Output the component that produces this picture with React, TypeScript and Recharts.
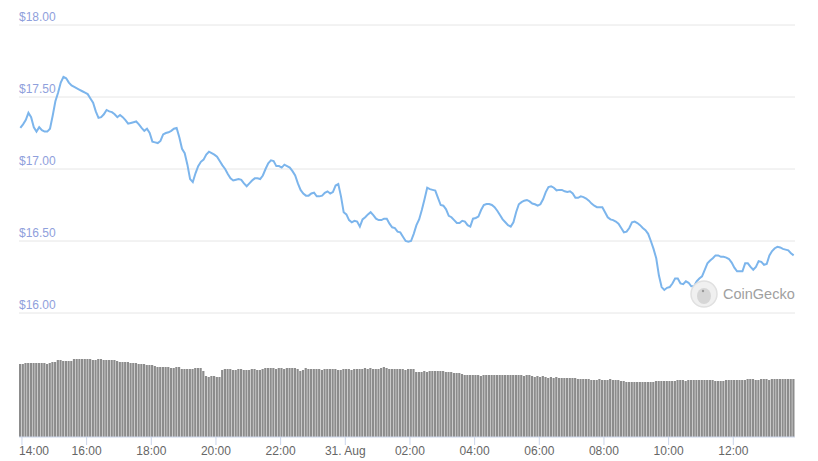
import { ComposedChart, Line, Bar, XAxis, YAxis, ReferenceLine } from 'recharts'

// 5-minute points, minutes since 30 Aug 00:00
const START = 837 // 13:57
const STEP = 5

// price in USD, one value per 5 minutes
const prices = [
  17.285, 17.31, 17.34, 17.39, 17.36, 17.29, 17.26, 17.29, 17.27, 17.26, 17.26, 17.28,
  17.37, 17.47, 17.53, 17.6, 17.64, 17.63, 17.6, 17.58, 17.57, 17.56, 17.55, 17.54,
  17.53, 17.52, 17.49, 17.46, 17.4, 17.355, 17.36, 17.38, 17.41, 17.4, 17.395, 17.38,
  17.36, 17.375, 17.36, 17.34, 17.315, 17.32, 17.325, 17.33, 17.31, 17.285, 17.265, 17.28,
  17.25, 17.19, 17.185, 17.18, 17.195, 17.24, 17.25, 17.255, 17.265, 17.28, 17.285, 17.22,
  17.14, 17.11, 17.03, 16.93, 16.91, 16.97, 17.02, 17.05, 17.065, 17.1, 17.12, 17.11,
  17.1, 17.085, 17.055, 17.025, 17.0, 16.965, 16.935, 16.92, 16.925, 16.93, 16.925, 16.9,
  16.88, 16.9, 16.92, 16.935, 16.935, 16.93, 16.955, 17.0, 17.04, 17.06, 17.055, 17.02,
  17.02, 17.01, 17.03, 17.02, 17.01, 16.985, 16.955, 16.9, 16.855, 16.83, 16.815, 16.815,
  16.83, 16.835, 16.81, 16.81, 16.815, 16.835, 16.845, 16.83, 16.84, 16.885, 16.895, 16.81,
  16.7, 16.685, 16.645, 16.63, 16.64, 16.635, 16.6, 16.65, 16.665, 16.685, 16.7, 16.68,
  16.655, 16.645, 16.645, 16.655, 16.655, 16.62, 16.595, 16.59, 16.565, 16.56, 16.53, 16.5,
  16.495, 16.5, 16.55, 16.61, 16.65, 16.715, 16.79, 16.87, 16.86, 16.855, 16.85, 16.8,
  16.75, 16.745, 16.72, 16.675, 16.665, 16.645, 16.625, 16.625, 16.64, 16.635, 16.61, 16.6,
  16.655, 16.66, 16.67, 16.715, 16.75, 16.757, 16.757, 16.75, 16.735, 16.71, 16.68, 16.65,
  16.63, 16.61, 16.6, 16.63, 16.7, 16.755, 16.77, 16.78, 16.785, 16.775, 16.76, 16.755,
  16.745, 16.755, 16.79, 16.84, 16.875, 16.88, 16.87, 16.852, 16.855, 16.855, 16.845, 16.84,
  16.845, 16.83, 16.8, 16.8, 16.81, 16.805, 16.795, 16.78, 16.76, 16.745, 16.735, 16.735,
  16.735, 16.7, 16.665, 16.65, 16.645, 16.635, 16.62, 16.59, 16.56, 16.565, 16.59, 16.63,
  16.635, 16.625, 16.61, 16.59, 16.575, 16.55, 16.5, 16.445, 16.38, 16.26, 16.18, 16.16,
  16.175, 16.18, 16.205, 16.24, 16.24, 16.205, 16.2, 16.22, 16.21, 16.185, 16.185, 16.22,
  16.24, 16.255, 16.3, 16.345, 16.365, 16.38, 16.4, 16.4, 16.39, 16.39, 16.385, 16.375,
  16.35, 16.315, 16.29, 16.29, 16.29, 16.345, 16.345, 16.32, 16.3, 16.32, 16.36, 16.355,
  16.335, 16.34, 16.4, 16.43, 16.45, 16.46, 16.455, 16.445, 16.44, 16.435, 16.415, 16.4,
]

// total volume, millions USD, same 5-minute steps
const volumes = [
  73, 73, 74, 74, 74, 74, 74, 74, 74, 74, 73, 74,
  75, 75, 77, 77, 76, 76, 76, 76, 78, 78, 78, 78,
  78, 78, 78, 77, 77, 78, 78, 77, 77, 77, 77, 77,
  76, 75, 75, 75, 75, 74, 74, 74, 73, 73, 73, 72,
  72, 72, 71, 70, 70, 70, 70, 70, 69, 69, 70, 70,
  68, 68, 68, 68, 68, 69, 69, 69, 66, 61, 60, 61,
  61, 60, 60, 67, 68, 68, 68, 67, 67, 68, 68, 67,
  67, 67, 68, 68, 67, 67, 68, 69, 69, 69, 69, 68,
  69, 69, 68, 69, 69, 69, 69, 68, 66, 67, 69, 68,
  68, 68, 68, 68, 67, 68, 68, 68, 68, 68, 67, 67,
  68, 68, 68, 67, 68, 68, 68, 68, 69, 68, 69, 68,
  68, 68, 69, 70, 69, 68, 68, 68, 68, 68, 68, 67,
  68, 68, 68, 65, 65, 65, 66, 65, 66, 66, 66, 66,
  66, 66, 65, 65, 65, 64, 64, 64, 63, 62, 62, 62,
  62, 62, 62, 61, 62, 62, 62, 62, 62, 62, 62, 62,
  62, 62, 62, 62, 62, 62, 62, 61, 62, 62, 61, 60,
  61, 60, 61, 60, 59, 60, 59, 60, 59, 59, 59, 59,
  59, 59, 59, 58, 58, 58, 58, 58, 57, 57, 57, 58,
  57, 57, 57, 58, 57, 57, 57, 56, 56, 55, 55, 55,
  55, 55, 55, 55, 55, 55, 55, 55, 56, 56, 56, 56,
  56, 56, 56, 56, 57, 57, 57, 56, 57, 57, 57, 57,
  57, 57, 57, 57, 57, 57, 56, 56, 56, 56, 57, 57,
  57, 57, 57, 57, 57, 57, 58, 58, 58, 57, 57, 58,
  58, 58, 57, 58, 58, 58, 58, 58, 58, 58, 58, 58,
]

const priceTicks = [16, 16.5, 17, 17.5, 18]
const timeTicks = [840, 960, 1080, 1200, 1320, 1440, 1560, 1680, 1800, 1920, 2040, 2160]

const data = prices.map((price, i) => ({
  t: START + i * STEP,
  price,
  volume: volumes[i],
}))

const W = 818
const H = 461
const margin = { top: 10, right: 23, bottom: 0, left: 19 }
const FONT = "'Liberation Sans', Arial, sans-serif"

const formatTime = (t: number) => {
  const h = Math.floor(t / 60) % 24
  if (h === 0) return '31. Aug'
  return String(h).padStart(2, '0') + ':00'
}

const PriceTick = (props: any) => {
  const { y, payload } = props
  return (
    <text x={margin.left} y={y - 4} fill="#8fa0dc" fontSize={12} fontFamily={FONT} textAnchor="start">
      ${payload.value.toFixed(2)}
    </text>
  )
}

const TimeTick = (props: any) => {
  const { x, y, payload } = props
  const label = formatTime(payload.value)
  // first label is pushed inside the plot, like the original
  const atEdge = x - 15 < margin.left
  return (
    <text
      x={atEdge ? margin.left : x}
      y={y + 10}
      fill="#666666"
      fontSize={12}
      fontFamily={FONT}
      textAnchor={atEdge ? 'start' : 'middle'}
    >
      {label}
    </text>
  )
}

export default function App() {
  return (
    <div style={{ position: 'absolute', left: 0, top: 0, width: W, height: H, background: '#fff' }}>
      <ComposedChart width={W} height={H} data={data} margin={margin}>
        <XAxis
          dataKey="t"
          type="number"
          domain={[834.5, 2274.5]}
          allowDataOverflow
          ticks={timeTicks}
          height={24}
          stroke="#ccd6eb"
          tickSize={8}
          tickMargin={0}
          tick={<TimeTick />}
        />
        <YAxis
          yAxisId="price"
          domain={[15.1389, 18.1042]}
          allowDataOverflow
          ticks={priceTicks}
          mirror
          width={60}
          axisLine={false}
          tickLine={false}
          tick={<PriceTick />}
        />
        <YAxis yAxisId="vol" hide domain={[0, 427]} allowDataOverflow />
        {priceTicks.map((v) => (
          <ReferenceLine key={v} yAxisId="price" y={v} stroke="#e6e6e6" strokeWidth={1} />
        ))}
        <Bar yAxisId="vol" dataKey="volume" fill="#8c8c8c" barSize={2.2} isAnimationActive={false} />
        <Line
          yAxisId="price"
          dataKey="price"
          stroke="#7cb5ec"
          strokeWidth={2}
          dot={false}
          activeDot={false}
          type="linear"
          isAnimationActive={false}
        />
      </ComposedChart>
      <div
        style={{
          position: 'absolute',
          left: 690,
          top: 280,
          display: 'flex',
          alignItems: 'center',
          gap: 5,
          pointerEvents: 'none',
        }}
      >
        <svg width={28} height={28}>
          <circle cx={14} cy={14} r={13} fill="#f0f0f0" stroke="#e0e0e0" strokeWidth={1.5} />
          <ellipse cx={14} cy={16} rx={7} ry={8} fill="#d6d6d6" />
          <circle cx={13} cy={11} r={1.2} fill="#9a9a9a" />
        </svg>
        <span style={{ color: '#a0a0a0', fontSize: 14.5, fontFamily: FONT }}>CoinGecko</span>
      </div>
    </div>
  )
}
